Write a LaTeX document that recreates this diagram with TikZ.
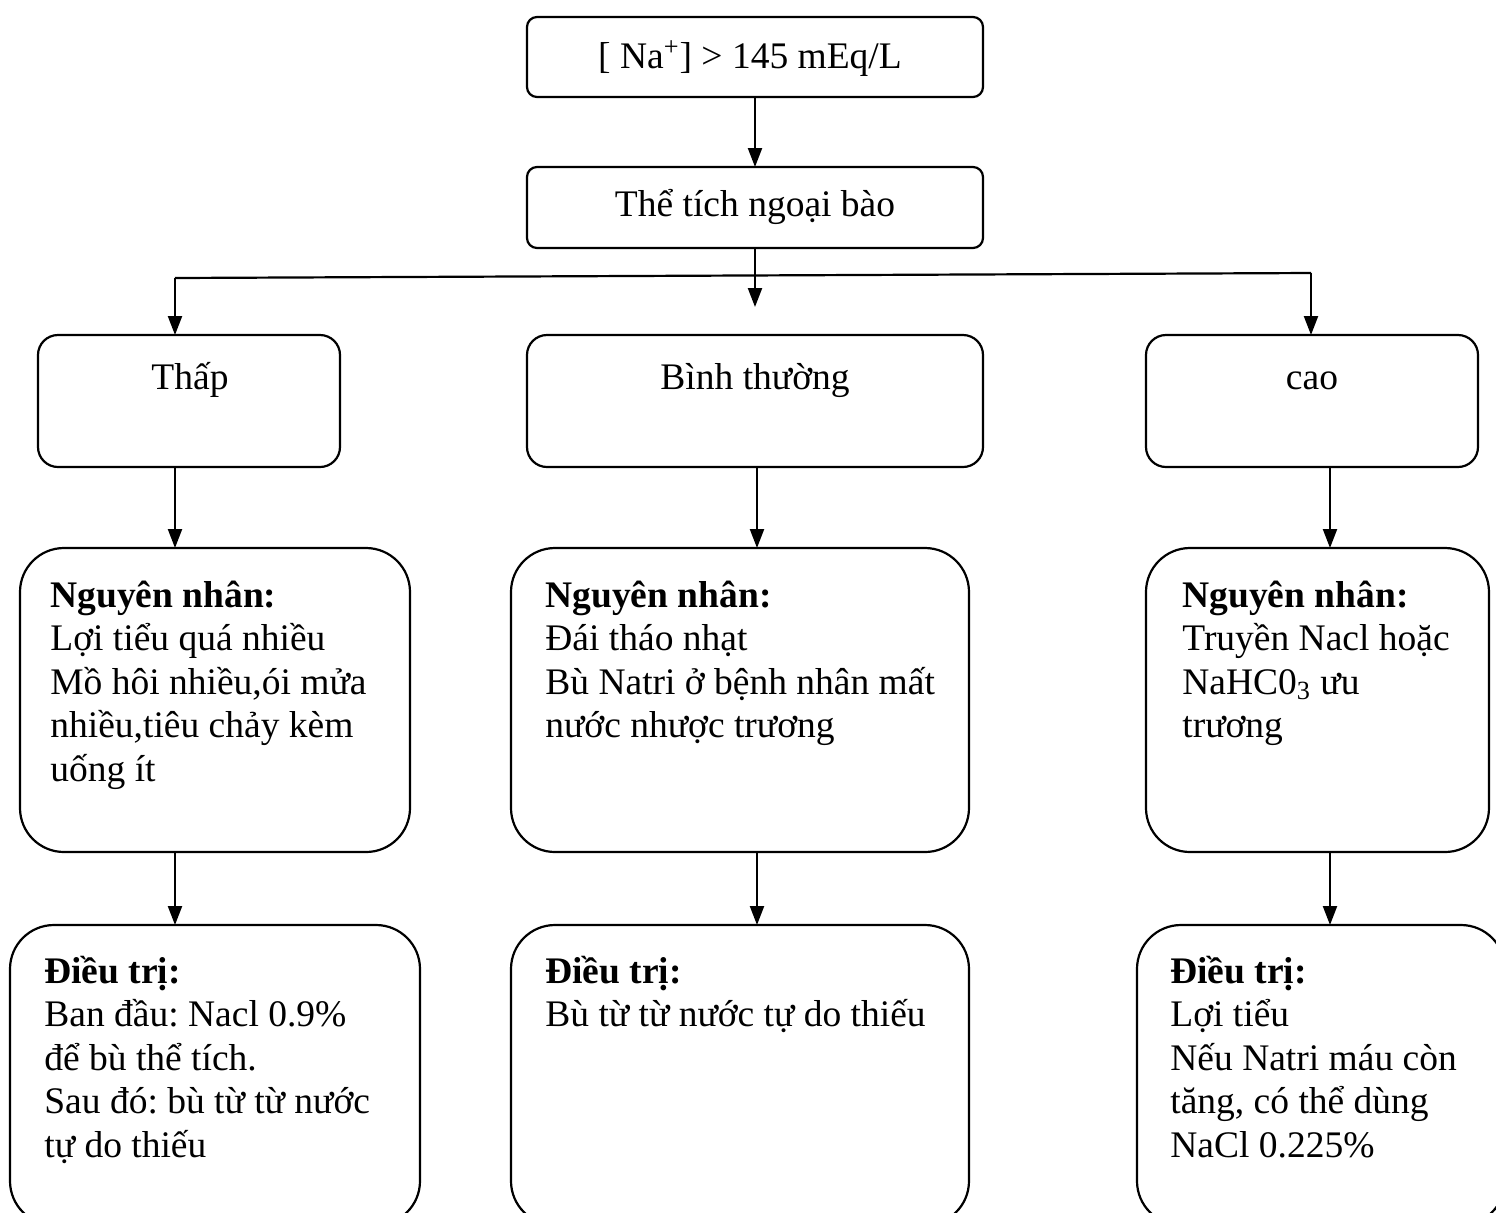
\documentclass[tikz,border=0pt]{standalone}
\usepackage{fontspec}
\setmainfont{Liberation Serif}
\usetikzlibrary{arrows.meta}
\frenchspacing
\newcommand{\fz}{\fontsize{18.75pt}{21.75pt}\selectfont}
\newcommand{\lns}[1]{\begin{tabular}[t]{@{}l@{}}#1\end{tabular}}
\begin{document}
\begin{tikzpicture}[x=0.5pt,y=-0.5pt,
  box/.style={draw, line width=1.1pt, inner sep=0pt, outer sep=0pt},
  sbox/.style={box, rounded corners=5pt},
  mbox/.style={box, rounded corners=10pt},
  bigbox/.style={box, rounded corners=22pt},
  arr/.style={line width=1.1pt, -{Triangle[length=9.5pt,width=7pt]}},
  lbl/.style={anchor=base, inner sep=0pt, font=\fz},
  txt/.style={anchor=base west, inner sep=0pt, font=\fz}]
\useasboundingbox (0,0) rectangle (1496,1212);

% boxes
\node[sbox, minimum width=228pt, minimum height=40pt] (top) at (755,57) {};
\node[sbox, minimum width=228pt, minimum height=40.5pt] (vol) at (755,207.5) {};
\node[mbox, minimum width=151pt, minimum height=66pt] (thap) at (189,401) {};
\node[mbox, minimum width=228pt, minimum height=66pt] (binh) at (755,401) {};
\node[mbox, minimum width=166pt, minimum height=66pt] (cao) at (1312,401) {};
\node[bigbox, minimum width=195pt, minimum height=152pt] (nnl) at (215,700) {};
\node[bigbox, minimum width=229pt, minimum height=152pt] (nnm) at (740,700) {};
\node[bigbox, minimum width=171.5pt, minimum height=152pt] (nnr) at (1317.5,700) {};
\node[bigbox, minimum width=205pt, minimum height=150pt] (dtl) at (215,1075) {};
\node[bigbox, minimum width=229pt, minimum height=150pt] (dtm) at (740,1075) {};
\node[bigbox, minimum width=184pt, minimum height=150pt] (dtr) at (1321,1075) {};

% labels
\node[lbl] (ttop) at (750,68) {[ Na\textsuperscript{+}] > 145 mEq/L};
\node[lbl] (tvol) at (755,216) {Thể tích ngoại bào};
\node[lbl] (tthap) at (190,389) {Thấp};
\node[lbl] (tbinh) at (755,389) {Bình thường};
\node[lbl] (tcao) at (1312,389) {cao};

\node[txt] (tnnl) at (50,607) {\lns{\textbf{Nguyên nhân:}\\Lợi tiểu quá nhiều\\Mồ hôi nhiều,ói mửa\\nhiều,tiêu chảy kèm\\uống ít}};
\node[txt] (tnnm) at (545,607) {\lns{\textbf{Nguyên nhân:}\\Đái tháo nhạt\\Bù Natri ở bệnh nhân mất\\nước nhược trương}};
\node[txt] (tnnr) at (1182,607) {\lns{\textbf{Nguyên nhân:}\\Truyền Nacl hoặc\\NaHC0\textsubscript{3} ưu\\trương}};
\node[txt] (tdtl) at (44,983) {\lns{\textbf{Điều trị:}\\Ban đầu: Nacl 0.9\%\\để bù thể tích.\\Sau đó: bù từ từ nước\\tự do thiếu}};
\node[txt] (tdtm) at (545,983) {\lns{\textbf{Điều trị:}\\Bù từ từ nước tự do thiếu}};
\node[txt] (tdtr) at (1170,983) {\lns{\textbf{Điều trị:}\\Lợi tiểu\\Nếu Natri máu còn\\tăng, có thể dùng\\NaCl 0.225\%}};

% connectors
\coordinate (midtip) at (757,307);
\coordinate (jl) at (175,278);
\coordinate (jr) at (1311,273);
\coordinate (xl) at (175,0);
\coordinate (xm) at (757,0);
\coordinate (xr) at (1330,0);

\draw[arr] (top.south) -- (vol.north);
\draw[arr] (vol.south) -- (vol.south |- midtip);
\draw[line width=1.1pt] (jl) -- (jr);
\draw[arr] (jl) -- (jl |- thap.north);
\draw[arr] (jr) -- (jr |- cao.north);

\draw[arr] (thap.south -| xl) -- (nnl.north -| xl);
\draw[arr] (binh.south -| xm) -- (nnm.north -| xm);
\draw[arr] (cao.south -| xr) -- (nnr.north -| xr);
\draw[arr] (nnl.south -| xl) -- (dtl.north -| xl);
\draw[arr] (nnm.south -| xm) -- (dtm.north -| xm);
\draw[arr] (nnr.south -| xr) -- (dtr.north -| xr);
\end{tikzpicture}
\end{document}
